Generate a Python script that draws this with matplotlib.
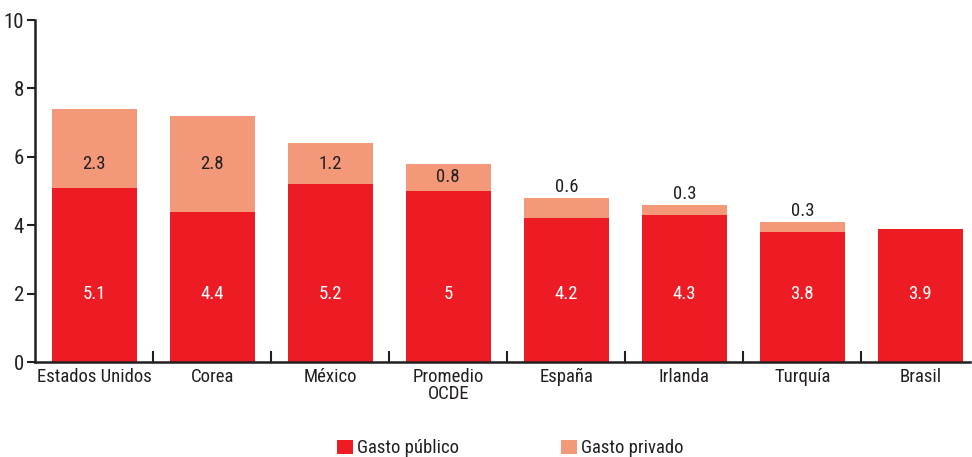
import matplotlib
matplotlib.use("Agg")
import matplotlib.pyplot as plt
from matplotlib import font_manager
import numpy as np

# data
paises = ["Estados Unidos", "Corea", "México", "Promedio\nOCDE", "España",
          "Irlanda", "Turquía", "Brasil"]
gasto_publico = [5.1, 4.4, 5.2, 5.0, 4.2, 4.3, 3.8, 3.9]
gasto_privado = [2.3, 2.8, 1.2, 0.8, 0.6, 0.3, 0.3, 0.0]
etiquetas_publico = ["5.1", "4.4", "5.2", "5", "4.2", "4.3", "3.8", "3.9"]
etiquetas_privado = ["2.3", "2.8", "1.2", "0.8", "0.6", "0.3", "0.3", ""]

ROJO = "#ED1C24"
SALMON = "#F4987A"
TEXTO = "#231F20"

# buscar una fuente estrecha
nombres = {f.name for f in font_manager.fontManager.ttflist}
condensadas = {f.name for f in font_manager.fontManager.ttflist
               if "ondensed" in f.fname or "Narrow" in f.fname}
fuente, estiramiento = "Roboto", "normal"
for cand in ["Liberation Sans Narrow", "Roboto Condensed", "Open Sans Condensed",
             "Noto Sans Condensed", "DejaVu Sans Condensed"]:
    if cand in nombres:
        fuente = cand
        break
else:
    for cand in ["Roboto", "Noto Sans", "Open Sans", "DejaVu Sans"]:
        if cand in condensadas:
            fuente, estiramiento = cand, "condensed"
            break
plt.rcParams['font.family'] = [fuente, 'DejaVu Sans']
plt.rcParams['font.stretch'] = estiramiento

fig = plt.figure(figsize=(9.72, 4.57), dpi=100)
ax = fig.add_axes([35 / 972, 1 - 362 / 457, 935 / 972, 342 / 457])

x = np.arange(len(paises))
ancho = 0.72
ax.bar(x, gasto_publico, width=ancho, color=ROJO, label="Gasto público")
ax.bar(x, gasto_privado, width=ancho, bottom=gasto_publico, color=SALMON,
       label="Gasto privado")

for i in range(len(paises)):
    ax.text(x[i], 2.0, etiquetas_publico[i], ha="center", va="center",
            color="white", fontsize=13.5)
    if not etiquetas_privado[i]:
        continue
    seg = gasto_privado[i]
    base = gasto_publico[i]
    if seg >= 0.8:
        ax.text(x[i], min(base + seg / 2, 5.8), etiquetas_privado[i],
                ha="center", va="center", color=TEXTO, fontsize=13.5)
    else:
        ax.text(x[i], base + seg + 0.05, etiquetas_privado[i],
                ha="center", va="bottom", color=TEXTO, fontsize=13.5)

ax.set_ylim(0, 10)
ax.set_xlim(-0.5, 7.42)
ax.set_yticks([0, 2, 4, 6, 8, 10])
ax.set_xticks(x)
ax.set_xticklabels(paises, fontsize=13.5, color=TEXTO, linespacing=0.95)
ax.set_xticks(x[:-1] + 0.5, minor=True)
ax.tick_params(axis="x", which="major", length=0, pad=4)
ax.tick_params(axis="x", which="minor", direction="in", length=8, width=1.5,
               color=TEXTO)
ax.tick_params(axis="y", direction="out", length=6, width=1.5, color=TEXTO,
               labelsize=15, labelcolor=TEXTO, pad=2)

for s in ["top", "right"]:
    ax.spines[s].set_visible(False)
for s in ["left", "bottom"]:
    ax.spines[s].set_linewidth(1.8)
    ax.spines[s].set_color(TEXTO)

ley = fig.legend(loc="lower center", bbox_to_anchor=(0.525, -0.038), ncol=2,
                 frameon=False, fontsize=13.5, handlelength=0.85, handleheight=0.85,
                 handletextpad=0.25, columnspacing=5.4)
for t in ley.get_texts():
    t.set_color(TEXTO)

fig.savefig("out.png", dpi=100)
